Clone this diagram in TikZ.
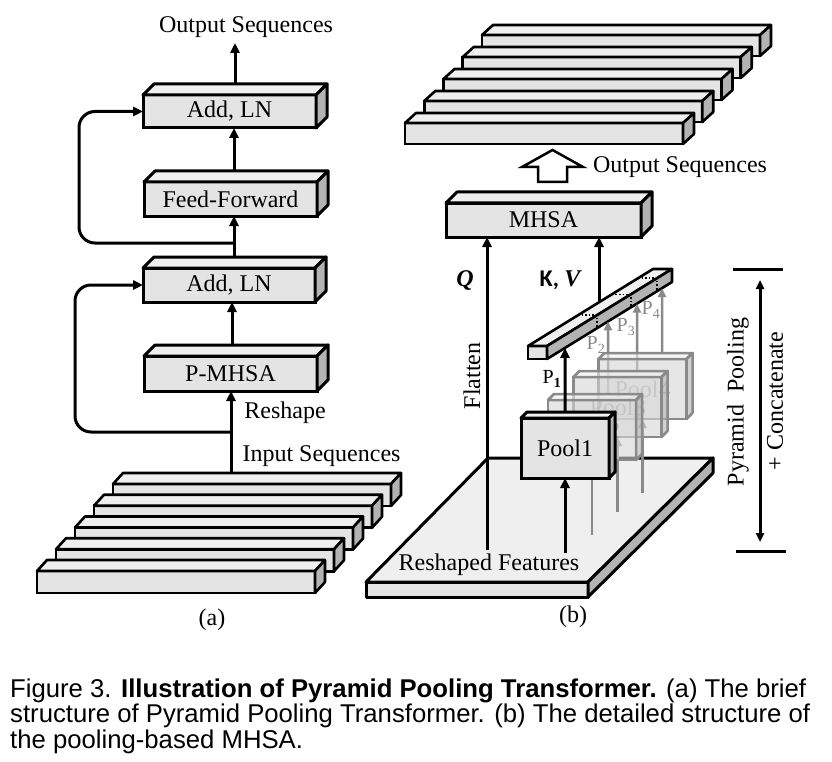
\documentclass[tikz,border=0pt]{standalone}
\usepackage{fontspec}
\setmainfont{Liberation Serif}
\newfontfamily\capfont{Liberation Sans}
\newfontfamily\kfont{Carlito}
\usetikzlibrary{arrows.meta,calc}
\definecolor{frontc}{HTML}{E4E4E4}
\definecolor{topc}{HTML}{EFEFEF}
\definecolor{sidec}{HTML}{B3B3B3}
\definecolor{poolg}{HTML}{8A8A8A}
\definecolor{poolf}{HTML}{D6D6D6}
\tikzset{
  face/.style={line width=3pt, line join=round, draw=black},
  box/.style={draw, line width=3pt, fill=frontc, inner sep=0pt, outer sep=0pt, font=\fontsize{24}{28}\selectfont},
  bar/.style={draw, line width=2.6pt, fill=frontc, inner sep=0pt, outer sep=0pt, minimum width=278pt},
  arr/.style={line width=3pt, -{Triangle[length=10pt,width=9pt]}},
  garr/.style={line width=2.5pt, draw=poolg, -{Triangle[length=9pt,width=8pt]}},
  lbl/.style={font=\fontsize{24}{28}\selectfont, inner sep=0pt},
  plbl/.style={font=\fontsize{20}{24}\selectfont, inner sep=0pt},
  gpool/.style={box, draw=poolg, line width=2.5pt, fill=poolf, fill opacity=0.6, text=poolg, minimum width=88pt, minimum height=60pt},
  capline/.style={font=\capfont\fontsize{25.7}{26}\selectfont, inner sep=0pt, anchor=base west},
}
\newcommand{\faces}[4][]{%
  \filldraw[face, fill=topc, #1] (#2.north west) -- ++(#3,#4) -- ($(#2.north east)+(#3,#4)$) -- (#2.north east) -- cycle;
  \filldraw[face, fill=sidec, #1] (#2.north east) -- ++(#3,#4) -- ($(#2.south east)+(#3,#4)$) -- (#2.south east) -- cycle;
}
\begin{document}
\begin{tikzpicture}[x=1pt,y=-1pt]
\useasboundingbox (0,0) rectangle (832,762);

%% ---------------- (a) ----------------
\foreach \k in {5,4,3,2,1}{
  \node[bar, minimum height=22pt] (in\k) at ({176+19*(\k-1)},{582-21.75*(\k-1)}) {};
  \faces[line width=2.6pt]{in\k}{10}{-11}
}
\node[box, minimum width=173pt, minimum height=33pt] (addB) at (229.5,111.5) {Add, LN};
\faces{addB}{11}{-11}
\node[box, minimum width=173pt, minimum height=34pt] (ff) at (230.5,199) {Feed-Forward};
\faces{ff}{11}{-11}
\node[box, minimum width=172pt, minimum height=34pt] (addA) at (229,285) {Add, LN};
\faces{addA}{11}{-11}
\node[box, minimum width=173pt, minimum height=35pt] (pm) at (230.5,373.5) {P-MHSA};
\faces{pm}{11}{-11}

\node[lbl] (outA) at (246,27) {Output Sequences};
\node[lbl] (resh) at (285,413) {Reshape};
\node[lbl] (inseq) at (321.5,456) {Input Sequences};
\node[lbl] (capa) at (212,620) {(a)};

\coordinate (oA) at (235,43);
\coordinate (inTop) at (231,473);
\coordinate (br1) at (234,243);
\coordinate (br2) at (231,432);
\draw[arr] ($(addB.north)+(5.5,-11)$) -- (oA);
\draw[arr] ($(ff.north)+(3.5,-11)$) -- ($(addB.south)+(4.5,0)$);
\draw[arr] ($(addA.north)+(5,-11)$) -- ($(ff.south)+(3.5,0)$);
\draw[arr] ($(pm.north)+(1.5,-11)$) -- ($(addA.south)+(3,0)$);
\draw[arr] (inTop) -- ($(pm.south)+(0.5,0)$);
\draw[arr, rounded corners=16pt] (br1) -- (79,243) -- (79,111.5) -- (addB.west);
\draw[arr, rounded corners=16pt] (br2) -- (75,432) -- (75,285) -- (addA.west);

%% ---------------- (b) ----------------
\foreach \k in {5,4,3,2,1}{
  \node[bar, minimum height=21pt] (out\k) at ({544+19.25*(\k-1)},{133.5-22*(\k-1)}) {};
  \faces[line width=2.6pt]{out\k}{11}{-10}
}
\draw[line width=2.5pt, line join=miter, fill=white] (538,182) -- (567,182) -- (567,167) -- (583,167) -- (552.5,150) -- (522,167) -- (538,167) -- cycle;
\node[lbl] (outB) at (680,167) {Output Sequences};

\node[box, minimum width=195pt, minimum height=34pt] (mhsa) at (543.5,220) {MHSA};
\faces{mhsa}{11}{-11}

% plane
\filldraw[face, fill=topc] (366,582) -- (588,582) -- (713,458) -- (488,458) -- cycle;
\filldraw[face, fill=frontc] (366,582) -- (588,582) -- (588,597) -- (366,597) -- cycle;
\filldraw[face, fill=sidec] (588,582) -- (713,458) -- (713,473) -- (588,597) -- cycle;
\node[lbl] (rf) at (489,565) {Reshaped Features};
\node[lbl] (capb) at (573,617) {(b)};

% Flatten / Q
\coordinate (qs) at (487,550);
\draw[arr] (qs) -- (qs |- mhsa.south);
\node[lbl] (q) at (465,280) {\textbf{\textit{Q}}};
\node[lbl, rotate=90] (flat) at (472,376) {Flatten};

% pool positions (back to front)
\node[gpool, draw=none, fill=none] (p4) at (642.5,389) {};
\node[gpool, draw=none, fill=none] (p3) at (617.5,407) {};
\node[gpool, draw=none, fill=none] (p2) at (592,430) {};
\node[box, draw=none, fill=none, minimum width=88pt, minimum height=60pt] (p1) at (565,448) {};

% bar for K,V
\node[draw, line width=2.6pt, fill=frontc, minimum width=19pt, minimum height=13pt, inner sep=0pt, outer sep=0pt] (kvbar) at (537.5,352.5) {};
\faces[line width=2.6pt]{kvbar}{125}{-77}
\coordinate (kvA) at (kvbar.north west);
\coordinate (kvAv) at ($(kvbar.north west)+(125,-77)$);
\coordinate (kvC) at (kvbar.south east);
\coordinate (kvCv) at ($(kvbar.south east)+(125,-77)$);
\foreach \t in {0.4,0.67,0.88}{
  \draw[dotted, line width=1.6pt] ($(kvbar.north west)+(125*\t,-77*\t)$) -- ($(kvbar.north east)+(125*\t,-77*\t)$) -- ($(kvbar.south east)+(125*\t,-77*\t)$);
}

% gray arrows
\coordinate (g2s) at (592,535);
\coordinate (g3s) at (617.5,512);
\coordinate (g4s) at (642.5,493);
\draw[garr] (g2s) -- (p2.south);
\draw[garr] (g3s) -- (p3.south);
\draw[garr] (g4s) -- (p4.south);
\coordinate (t2s) at (608,394);
\coordinate (t3s) at (637,371);
\coordinate (t4s) at (662,353);
\draw[garr] (t2s) -- ($(kvC)!0.488!(kvCv)$);
\draw[garr] (t3s) -- ($(kvC)!0.72!(kvCv)$);
\draw[garr] (t4s) -- ($(kvC)!0.92!(kvCv)$);

% pool boxes
\node[gpool] (pool4) at (p4) {Pool4};
\faces[draw=poolg, line width=2.5pt, fill opacity=0.6]{pool4}{6}{-6}
\node[gpool] (pool3) at (p3) {Pool3};
\faces[draw=poolg, line width=2.5pt, fill opacity=0.6]{pool3}{6}{-6}
\node[gpool] (pool2) at (p2) {Pool2};
\faces[draw=poolg, line width=2.5pt, fill opacity=0.6]{pool2}{6}{-6}
\node[box, minimum width=88pt, minimum height=60pt] (pool1) at (p1) {Pool1};
\faces{pool1}{6}{-6}

\coordinate (g1s) at (565,553);
\draw[arr] (g1s) -- (pool1.south);
\draw[arr] ($(pool1.north)+(0,-6)$) -- ($(kvC)!0.144!(kvCv)$);

% K,V arrow
\coordinate (kvs) at ($(kvA)!0.568!(kvAv)$);
\draw[arr] (kvs) -- (kvs |- mhsa.south);
\node[lbl] (kv) at (560,280) {\kfont\bfseries K, \rmfamily\bfseries\itshape V};

% P labels
\node[plbl] (lp1) at (552,379) {P\textsubscript{\textbf{1}}};
\node[plbl, text=poolg] (lp2) at (596,345) {P\textsubscript{2}};
\node[plbl, text=poolg] (lp3) at (626,327) {P\textsubscript{3}};
\node[plbl, text=poolg] (lp4) at (651,310) {P\textsubscript{4}};

% bracket
\coordinate (bT) at (760,269);
\draw[line width=3pt] (733,269) -- (783,269);
\draw[line width=3pt] (736,551) -- (786,551);
\draw[line width=3pt, {Triangle[length=9pt,width=8pt]}-{Triangle[length=9pt,width=8pt]}] ($(bT)+(0,11)$) -- ($(bT)+(0,273)$);
\node[lbl, rotate=90] (pp) at (738,402) {Pyramid\hspace{0.5em}Pooling};
\node[lbl, rotate=90] (pc) at (775,401) {+ Concatenate};

%% caption
\node[capline] (c1) at (10,697) {Figure 3. \textbf{Illustration of Pyramid Pooling Transformer.} (a) The brief};
\node[capline] (c2) at (10,722.5) {structure of Pyramid Pooling Transformer. (b) The detailed structure of};
\node[capline] (c3) at (10,748) {the pooling-based MHSA.};
\end{tikzpicture}
\end{document}
